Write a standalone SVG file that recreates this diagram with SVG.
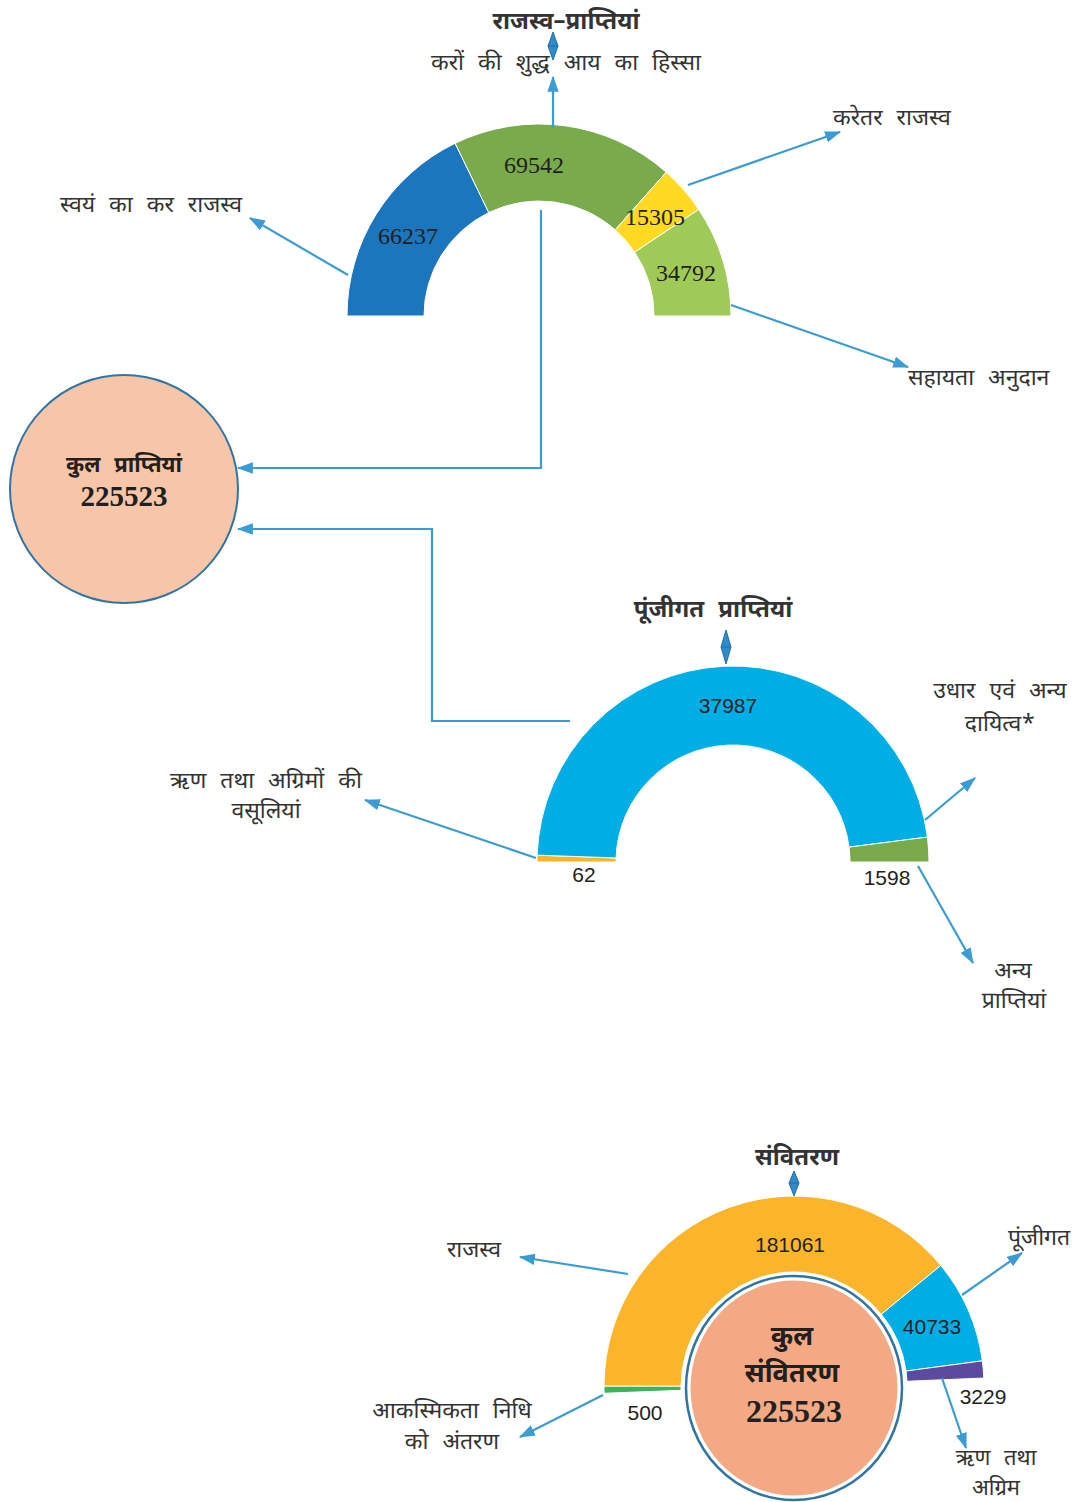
<svg xmlns="http://www.w3.org/2000/svg" width="1081" height="1502" viewBox="0 0 1081 1502">
<style>
.lbl{font-family:"Noto Sans Devanagari","Lohit Devanagari","Noto Sans",sans-serif;font-size:23px;word-spacing:8px;fill:#333;}
.ttl{font-family:"Noto Sans Devanagari","Lohit Devanagari","Noto Sans",sans-serif;font-size:24px;word-spacing:8px;font-weight:bold;fill:#333;}
.numS{font-family:"Liberation Serif",serif;font-size:24px;fill:#231f20;}
.num{font-family:"Liberation Sans",sans-serif;font-size:21px;fill:#231f20;}
.big{font-family:"Liberation Serif",serif;font-weight:bold;fill:#231f20;}
.c{text-anchor:middle;}
.con{fill:none;stroke:#3a9bd5;stroke-width:2.2;}
.seg{stroke:#fff;stroke-width:1;}
.dia{fill:#2f8bc9;stroke:#236fa3;stroke-width:1;}
</style>
<defs>
<marker id="ah" viewBox="0 0 14 10" refX="13" refY="5" markerWidth="16" markerHeight="12" orient="auto" markerUnits="userSpaceOnUse">
<path d="M0,0 L14,5 L0,10 z" fill="#3a9bd5"/>
</marker>
</defs>

<g id="revenue-chart">
<path class="seg" fill="#1c76bd" d="M347,316 A192,192 0 0 1 455.13,143.28 L488.77,212.55 A115,115 0 0 0 424,316 Z"/>
<path class="seg" fill="#79aa4b" d="M455.13,143.28 A192,192 0 0 1 666.22,172.19 L615.20,229.86 A115,115 0 0 0 488.77,212.55 Z"/>
<path class="seg" fill="#ffd922" d="M666.22,172.19 A192,192 0 0 1 698.74,209.48 L634.68,252.20 A115,115 0 0 0 615.20,229.86 Z"/>
<path class="seg" fill="#a0ca58" d="M698.74,209.48 A192,192 0 0 1 731,316 L654,316 A115,115 0 0 0 634.68,252.20 Z"/>
<text class="numS c" x="408" y="244">66237</text>
<text class="numS c" x="534" y="173">69542</text>
<text class="numS c" x="655" y="225">15305</text>
<text class="numS c" x="686" y="281">34792</text>
<text class="ttl c" x="566" y="29">राजस्व–प्राप्तियां</text>
<text class="lbl c" x="566" y="70">करों की शुद्ध आय का हिस्सा</text>
<path class="dia" d="M553,32 L558,46 L553,60 L548,46 Z M548,46 L558,46"/>
</g>

<g id="label-own-tax"><text class="lbl c" x="151" y="212">स्वयं का कर राजस्व</text></g>
<g id="label-nontax"><text class="lbl" x="833" y="125">करेतर राजस्व</text></g>
<g id="label-grants"><text class="lbl" x="908" y="385">सहायता अनुदान</text></g>

<g id="total-receipts">
<circle cx="124" cy="489" r="114" fill="#f7c6a8" stroke="#2e75a6" stroke-width="2"/>
<text class="ttl c" x="124" y="472" style="fill:#231f20;font-size:22px">कुल प्राप्तियां</text>
<text class="big c" x="124" y="506" font-size="29">225523</text>
</g>

<g id="capital-chart">
<path class="seg" fill="#fbb52a" d="M537,862 A196,196 0 0 1 537.12,855.16 L616.07,857.92 A117,117 0 0 0 616,862 Z"/>
<path class="seg" fill="#00aee6" d="M537.12,855.16 A196,196 0 0 1 927.41,837.09 L849.05,847.13 A117,117 0 0 0 616.07,857.92 Z"/>
<path class="seg" fill="#78a94a" d="M927.41,837.09 A196,196 0 0 1 929,862 L850,862 A117,117 0 0 0 849.05,847.13 Z"/>
<text class="num c" x="728" y="713">37987</text>
<text class="num c" x="584" y="882">62</text>
<text class="num c" x="887" y="885">1598</text>
<text class="ttl c" x="713" y="617">पूंजीगत प्राप्तियां</text>
<path class="dia" d="M726,630 L731,647 L726,664 L721,647 Z M721,647 L731,647"/>
</g>

<g id="label-loans-recovery"><text class="lbl c" x="266" y="788">ऋण तथा अग्रिमों की</text><text class="lbl c" x="266" y="818">वसूलियां</text></g>
<g id="label-borrowings"><text class="lbl c" x="1000" y="698">उधार एवं अन्य</text><text class="lbl c" x="1000" y="731">दायित्व*</text></g>
<g id="label-other-receipts"><text class="lbl c" x="1013" y="978">अन्य</text><text class="lbl c" x="1014" y="1008">प्राप्तियां</text></g>

<g id="disbursement-chart">
<path class="seg" fill="#3db35a" d="M604.14,1393.29 A190,190 0 0 1 604,1386 L681,1386 A113,113 0 0 0 681.08,1390.34 Z"/>
<path class="seg" fill="#fbb52a" d="M604,1386 A190,190 0 0 1 940.82,1265.41 L881.32,1314.28 A113,113 0 0 0 681,1386 Z"/>
<path class="seg" fill="#00aee6" d="M940.82,1265.41 A190,190 0 0 1 982.33,1360.87 L906.01,1371.05 A113,113 0 0 0 881.32,1314.28 Z"/>
<path class="seg" fill="#5b4a9e" d="M982.33,1360.87 A190,190 0 0 1 983.83,1378.04 L906.90,1381.27 A113,113 0 0 0 906.01,1371.05 Z"/>
<text class="num c" x="790" y="1252">181061</text>
<text class="num c" x="932" y="1334">40733</text>
<text class="num c" x="983" y="1404">3229</text>
<text class="num c" x="645" y="1420">500</text>
<text class="ttl c" x="797" y="1165">संवितरण</text>
<path class="dia" d="M794,1171 L799,1183 L794,1196 L789,1183 Z M789,1183 L799,1183"/>
</g>

<g id="total-disbursement">
<ellipse cx="794" cy="1388" rx="108" ry="112" fill="#f3a983" stroke="#fff" stroke-width="9"/>
<ellipse cx="794" cy="1388" rx="108" ry="112" fill="none" stroke="#2e75a6" stroke-width="2.5"/>
<text class="ttl c" x="792" y="1345" style="fill:#231f20;font-size:27px">कुल</text>
<text class="ttl c" x="792" y="1382" style="fill:#231f20;font-size:27px">संवितरण</text>
<text class="big c" x="794" y="1422" font-size="32">225523</text>
</g>

<g id="label-d-revenue"><text class="lbl c" x="474" y="1257">राजस्व</text></g>
<g id="label-d-capital"><text class="lbl" x="1008" y="1245">पूंजीगत</text></g>
<g id="label-d-loans"><text class="lbl c" x="996" y="1465" style="font-size:22px">ऋण तथा</text><text class="lbl c" x="996" y="1495" style="font-size:22px">अग्रिम</text></g>
<g id="label-d-contingency"><text class="lbl c" x="452" y="1418">आकस्मिकता निधि</text><text class="lbl c" x="452" y="1449">को अंतरण</text></g>

<g id="connectors">
<path class="con" marker-end="url(#ah)" d="M553,128 L553,77"/>
<path class="con" marker-end="url(#ah)" d="M348,275 L250,218"/>
<path class="con" marker-end="url(#ah)" d="M688,185 L840,132"/>
<path class="con" marker-end="url(#ah)" d="M731,305 L908,367"/>
<path class="con" marker-end="url(#ah)" d="M541,210 L541,468 L238,468"/>
<path class="con" marker-end="url(#ah)" d="M570,721 L432,721 L432,529 L238,529"/>
<path class="con" marker-end="url(#ah)" d="M536,858 L365,800"/>
<path class="con" marker-end="url(#ah)" d="M925,820 L975,778"/>
<path class="con" marker-end="url(#ah)" d="M918,866 L973,963"/>
<path class="con" marker-end="url(#ah)" d="M628,1274 L520,1257"/>
<path class="con" marker-end="url(#ah)" d="M962,1295 L1022,1253"/>
<path class="con" marker-end="url(#ah)" d="M942,1378 L966,1448"/>
<path class="con" marker-end="url(#ah)" d="M603,1395 L520,1437"/>
</g>
</svg>
